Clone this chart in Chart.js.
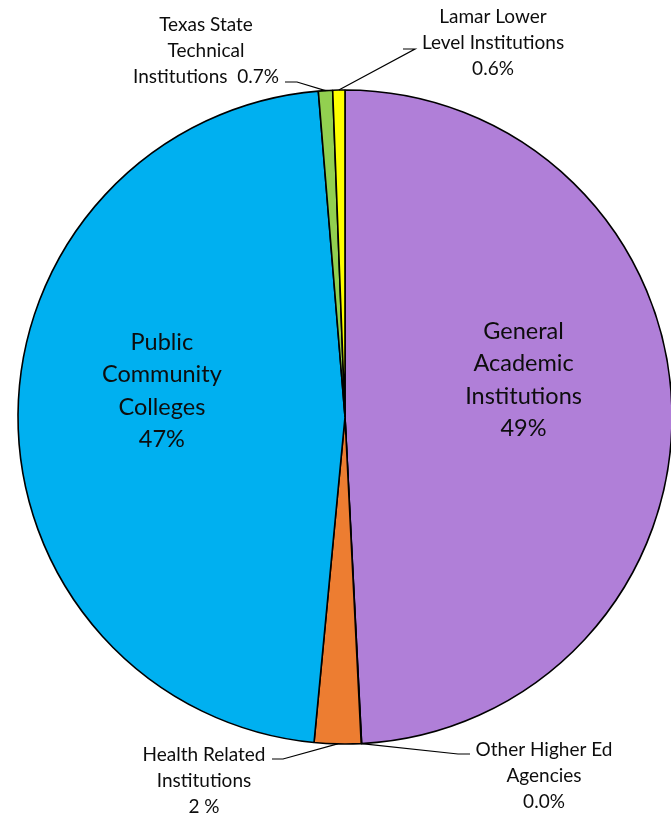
<!DOCTYPE html>
<html><head><meta charset="utf-8"><title>Pie</title>
<script src="https://cdn.jsdelivr.net/npm/chart.js"></script>
<style>
  html, body { margin: 0; padding: 0; background: #ffffff; }
  #wrap { width: 671px; height: 817px; position: relative; }
</style>
</head>
<body>
<div id="wrap"><canvas id="pie"></canvas></div>
<script>
// data, clockwise from 12 o'clock
const categories = [
  "General Academic Institutions",
  "Other Higher Ed Agencies",
  "Health Related Institutions",
  "Public Community Colleges",
  "Texas State Technical Institutions",
  "Lamar Lower Level Institutions"
];
const shares = [49.2, 0.02, 2.3, 47.2, 0.7, 0.6];
const shareLabels = ["49%", "0.0%", "2 %", "47%", "0.7%", "0.6%"];
const sliceColors = ["#b07fd8", "#4472c4", "#ed7d31", "#00b0f0", "#92d050", "#ffff00"];

// label layout: inside labels at fractions of the radius, outside ones with leader lines
const labelLayout = [
  { inside: true, fx: 0.546, fy: -0.113, lines: ["General", "Academic", "Institutions", shareLabels[0]] },
  { inside: false, cx: 544, top: 750, lines: ["Other Higher Ed", "Agencies", shareLabels[1]], elbow: [458, 754], end: [470, 754] },
  { inside: false, cx: 204, top: 755, lines: ["Health Related", "Institutions", shareLabels[2]], elbow: [283, 759], end: [272, 759] },
  { inside: true, fx: -0.56, fy: -0.08, lines: ["Public", "Community", "Colleges", shareLabels[3]] },
  { inside: false, cx: 206, top: 25, lines: ["Texas State", "Technical", "Institutions  " + shareLabels[4]], elbow: [297, 82], end: [285, 82] },
  { inside: false, cx: 493, top: 17, lines: ["Lamar Lower", "Level Institutions", shareLabels[5]], elbow: [415, 49], end: [403, 49] }
];

const labelPlugin = {
  id: 'pieLabels',
  afterDatasetsDraw(chart) {
    const ctx = chart.ctx;
    const meta = chart.getDatasetMeta(0);
    ctx.save();
    ctx.fillStyle = '#0d0d0d';
    ctx.textAlign = 'center';
    ctx.textBaseline = 'middle';
    meta.data.forEach((arc, i) => {
      const lay = labelLayout[i];
      const p = arc.getProps(['x', 'y', 'startAngle', 'endAngle', 'outerRadius'], true);
      if (lay.inside) {
        ctx.font = '23.5px Lato, "Open Sans", sans-serif';
        const x = p.x + lay.fx * p.outerRadius;
        const y0 = p.y + lay.fy * p.outerRadius - 1.5 * 32.5;
        lay.lines.forEach((t, k) => ctx.fillText(t, x, y0 + k * 32.5));
      } else {
        const mid = (p.startAngle + p.endAngle) / 2;
        const sx = p.x + Math.cos(mid) * p.outerRadius;
        const sy = p.y + Math.sin(mid) * p.outerRadius;
        ctx.strokeStyle = '#000000';
        ctx.lineWidth = 1.2;
        ctx.beginPath();
        ctx.moveTo(sx, sy);
        ctx.lineTo(lay.elbow[0], lay.elbow[1]);
        ctx.lineTo(lay.end[0], lay.end[1]);
        ctx.stroke();
        ctx.font = '19px Lato, "Open Sans", sans-serif';
        lay.lines.forEach((t, k) => ctx.fillText(t, lay.cx, lay.top + k * 26));
      }
    });
    ctx.restore();
  }
};

new Chart(document.getElementById('pie'), {
  type: 'pie',
  data: {
    labels: categories,
    datasets: [{
      data: shares,
      backgroundColor: sliceColors,
      borderColor: '#000000',
      borderWidth: 1.6
    }]
  },
  options: {
    responsive: true,
    maintainAspectRatio: false,
    animation: false,
    radius: 327,
    layout: { padding: { left: 19, right: 0, top: 17, bottom: 0 } },
    plugins: {
      legend: { display: false },
      tooltip: { enabled: false }
    }
  },
  plugins: [labelPlugin]
});
</script>
</body></html>
